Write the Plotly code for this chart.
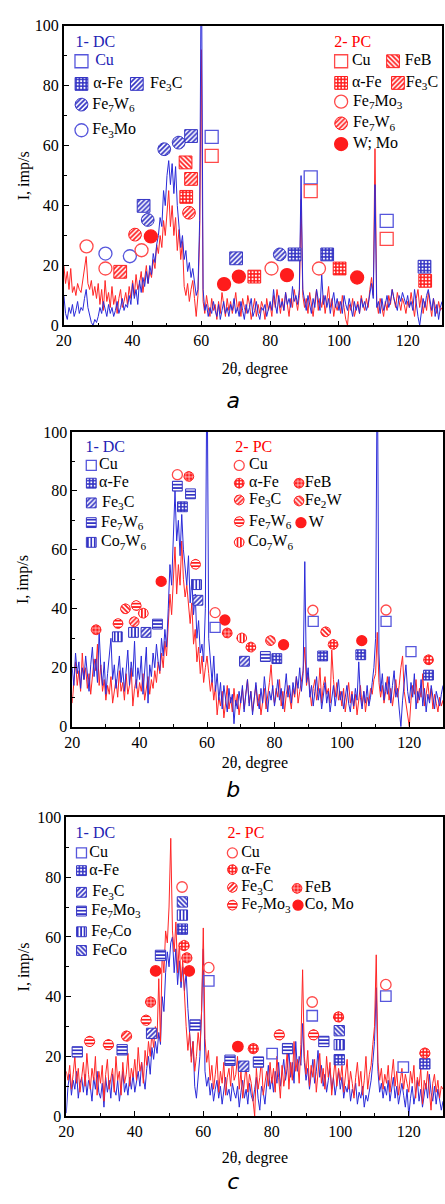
import math
import plotly.graph_objects as go

W, H = 445, 1204
X_START, X_STEP = 20.0, 0.5   # diffractogram sampling (2theta, degree)

# ---------------- diffractograms (I, imp/s), 20.0 ... 130.0 step 0.5 ----------------
A_DC = [
    10, 4, 2, 6, 4, 7, 3, 5, 8, 4, 6, 5, 9, 12, 6, 3, 1, 0, 2, 1,
    3, 6, 4, 8, 5, 3, 7, 4, 6, 3, 5, 8, 4, 6, 9, 5, 7, 6, 10, 7,
    14, 9, 12, 7, 15, 11, 16, 13, 18, 14, 20, 17, 24, 21, 27, 30, 36, 33, 45, 40,
    50, 55, 47, 54, 44, 53, 40, 32, 26, 30, 22, 25, 18, 21, 16, 19, 14, 10, 12, 35,
    130, 12, 5, 7, 3, 6, 4, 8, 5, 3, 7, 2, 5, 8, 4, 6, 3, 7, 5, 9,
    4, 6, 3, 8, 5, 2, 7, 4, 6, 9, 3, 5, 8, 4, 2, 6, 5, 7, 3, 6,
    8, 5, 12, 7, 4, 10, 6, 8, 5, 11, 7, 9, 6, 13, 8, 10, 7, 12, 50, 12,
    8, 5, 10, 7, 4, 9, 6, 12, 8, 5, 17, 7, 10, 6, 9, 4, 8, 11, 6, 9,
    5, 8, 4, 10, 7, 5, 9, 6, 3, 8, 5, 7, 4, 9, 6, 8, 5, 7, 11, 14,
    9, 47, 6, 8, 4, 9, 5, 7, 10, 6, 8, 12, 9, 7, 5, 10, 8, 11, 9, 7,
    10, 6, 8, 5, 12, 7, 3, 0, 5, 9, 6, 10, 12, 8, 5, 9, 3, 7, 2, 6,
    8]
A_PC = [
    20, 14, 18, 12, 19, 11, 13, 10, 14, 12, 11, 15, 18, 23, 14, 12, 15, 10, 13, 9,
    14, 7, 12, 5, 15, 8, 11, 6, 13, 7, 10, 4, 9, 12, 6, 8, 11, 7, 13, 9,
    15, 10, 17, 12, 14, 18, 11, 16, 20, 14, 18, 16, 22, 19, 27, 24, 30, 26, 35, 30,
    38, 45, 33, 40, 30, 36, 25, 32, 22, 28, 13, 10, 14, 8, 12, 15, 9, 3, 10, 30,
    92, 8, 4, 10, 6, 3, 9, 5, 7, 2, 8, 4, 11, 6, 3, 9, 5, 8, 4, 7,
    11, 5, 8, 3, 9, 6, 4, 10, 7, 2, 5, 9, 3, 7, 4, 8, 6, 2, 9, 5,
    7, 3, 10, 6, 12, 8, 4, 9, 5, 11, 7, 3, 9, 6, 12, 8, 5, 10, 42, 10,
    6, 9, 4, 11, 7, 3, 8, 12, 5, 9, 6, 10, 4, 8, 13, 6, 9, 3, 7, 5,
    8, 4, 10, 6, 2, 0, 7, 5, 9, 3, 6, 8, 4, 10, 7, 5, 9, 6, 12, 16,
    10, 59, 8, 4, 9, 6, 3, 8, 5, 10, 7, 12, 9, 6, 11, 8, 5, 9, 7, 4,
    8, 6, 11, 7, 3, 9, 12, 6, 10, 4, 8, 5, 11, 7, 3, 9, 6, 4, 8, 5,
    6]
B_DC = [
    20, 14, 25, 18, 22, 13, 20, 16, 24, 19, 12, 21, 27, 17, 23, 15, 32, 20, 14, 22,
    11, 18, 25, 30, 16, 21, 13, 19, 24, 15, 20, 12, 18, 26, 14, 22, 17, 29, 13, 20,
    16, 24, 11, 19, 27, 8, 21, 17, 25, 20, 28, 22, 19, 30, 24, 33, 27, 40, 55, 48,
    62, 80, 63, 70, 58, 72, 60, 55, 48, 58, 42, 50, 38, 45, 30, 36, 25, 28, 22, 40,
    130, 30, 22, 15, 24, 12, 18, 9, 15, 6, 14, 10, 5, 13, 8, 11, 1, 9, 6, 12,
    8, 14, 5, 11, 16, 7, 12, 4, 10, 15, 9, 6, 13, 8, 17, 10, 5, 12, 9, 14,
    7, 11, 16, 9, 13, 6, 12, 18, 10, 14, 8, 15, 11, 17, 13, 20, 12, 18, 56, 15,
    20, 10, 14, 7, 12, 17, 9, 13, 6, 11, 15, 8, 12, 5, 10, 14, 7, 11, 16, 9,
    12, 6, 10, 14, 8, 5, 11, 7, 13, 9, 22, 10, 6, 12, 8, 14, 7, 10, 15, 20,
    30, 130, 25, 12, 18, 9, 15, 11, 17, 8, 14, 19, 10, 13, 6, 0, 9, 14, 21, 12,
    8, 15, 10, 18, 6, 12, 9, 16, 7, 13, 5, 11, 8, 14, 10, 6, 12, 9, 7, 11,
    14]
B_PC = [
    8, 15, 22, 14, 19, 12, 25, 16, 20, 13, 18, 11, 17, 23, 19, 28, 14, 21, 12, 16,
    9, 14, 11, 17, 8, 13, 16, 10, 19, 12, 15, 9, 18, 11, 14, 20, 7, 13, 16, 10,
    15, 12, 18, 9, 14, 17, 11, 16, 13, 19, 15, 22, 18, 25, 20, 29, 24, 36, 45, 38,
    50, 61, 45, 55, 48, 63, 50, 44, 48, 40, 35, 42, 28, 33, 22, 27, 18, 24, 15, 20,
    24, 18, 12, 16, 9, 14, 4, 10, 7, 12, 3, 8, 14, 6, 10, 5, 13, 7, 11, 4,
    9, 13, 6, 11, 16, 8, 12, 5, 10, 14, 7, 11, 4, 9, 13, 6, 10, 15, 21, 12,
    8, 13, 10, 16, 7, 12, 5, 11, 14, 9, 6, 13, 10, 17, 8, 12, 15, 19, 27, 14,
    18, 11, 7, 13, 16, 9, 12, 20, 8, 14, 17, 11, 13, 8, 26, 16, 10, 15, 9, 12,
    7, 13, 5, 10, 15, 8, 12, 6, 11, 4, 9, 14, 7, 12, 5, 10, 8, 13, 11, 16,
    18, 32, 15, 10, 14, 8, 12, 17, 9, 13, 7, 11, 16, 10, 14, 20, 24, 12, 8, 5,
    0, 9, 14, 11, 16, 8, 13, 10, 18, 7, 12, 15, 9, 13, 6, 11, 8, 5, 10, 7,
    9]
C_DC = [
    1, 10, 14, 7, 12, 9, 15, 6, 11, 13, 8, 14, 7, 12, 10, 5, 13, 9, 15, 8,
    6, 11, 3, 13, 8, 12, 6, 14, 9, 7, 12, 5, 10, 15, 8, 11, 7, 13, 9, 14,
    8, 12, 15, 10, 18, 13, 9, 16, 20, 14, 23, 19, 25, 21, 28, 24, 40, 35, 48, 55,
    50, 58, 60, 48, 56, 44, 52, 43, 50, 42, 48, 36, 28, 20, 25, 10, 6, 14, 20, 35,
    56, 15, 10, 13, 7, 11, 5, 9, 12, 6, 10, 4, 8, 13, 7, 9, 5, 11, 8, 6,
    10, 3, 8, 12, 6, 9, 4, 11, 7, 5, 9, 13, 6, 2, 10, 8, 4, 12, 17, 9,
    13, 8, 15, 11, 18, 10, 14, 19, 12, 16, 22, 13, 18, 11, 25, 15, 20, 17, 31, 18,
    12, 16, 9, 14, 19, 11, 15, 22, 13, 17, 10, 14, 8, 12, 16, 9, 13, 7, 11, 15,
    9, 13, 6, 10, 8, 12, 5, 9, 7, 11, 4, 8, 6, 10, 3, 7, 5, 9, 12, 18,
    25, 43, 15, 8, 11, 6, 10, 7, 12, 5, 9, 13, 6, 10, 4, 8, 11, 7, 3, 9,
    0, 6, 10, 4, 8, 12, 5, 9, 3, 7, 11, 6, 14, 8, 5, 10, 4, 9, 6, 2,
    5]
C_PC = [
    15, 12, 17, 9, 14, 20, 11, 16, 8, 13, 18, 10, 21, 14, 9, 16, 12, 20, 7, 15,
    11, 17, 5, 14, 19, 9, 13, 16, 8, 20, 12, 15, 7, 18, 11, 14, 21, 10, 16, 13,
    19, 12, 23, 15, 18, 11, 22, 17, 25, 20, 28, 23, 30, 26, 46, 25, 55, 48, 62, 58,
    70, 93, 62, 55, 65, 48, 58, 45, 52, 40, 30, 22, 28, 18, 25, 15, 20, 28, 22, 35,
    63, 26, 18, 22, 12, 17, 9, 14, 20, 8, 15, 11, 18, 7, 13, 16, 10, 19, 12, 14,
    20, 9, 15, 6, 12, 17, 8, 14, 11, 5, 0, 16, 9, 13, 19, 7, 12, 15, 10, 18,
    11, 16, 8, 20, 13, 6, 17, 10, 14, 22, 9, 18, 12, 25, 15, 19, 11, 24, 49, 20,
    14, 22, 10, 17, 13, 19, 8, 15, 21, 11, 16, 9, 20, 13, 18, 7, 14, 19, 10, 16,
    12, 17, 8, 14, 19, 9, 15, 11, 6, 13, 18, 10, 15, 7, 12, 20, 9, 14, 17, 24,
    30, 54, 18, 12, 16, 9, 14, 11, 17, 8, 13, 19, 10, 15, 7, 12, 16, 9, 14, 11,
    8, 15, 11, 17, 6, 13, 10, 16, 4, 12, 9, 15, 7, 2, 11, 14, 8, 12, 6, 10,
    9]

# ---------------- phase identification marks (2theta, I) ----------------
# panel a
A_DC_CU = [(63.0, 62.9), (91.8, 49.4), (113.9, 34.9)]
A_DC_AFE = [(87.1, 23.7), (96.6, 23.7), (124.9, 19.6)]
A_DC_FE3C = [(43.2, 39.9), (57.0, 63.2), (70.1, 22.4)]
A_DC_FE7W6 = [(44.4, 35.2), (49.2, 58.8), (53.4, 61.0), (82.8, 23.7)]
A_DC_FE3MO = [(32.1, 24.0), (39.2, 23.1)]
A_PC_CU = [(63.0, 56.6), (91.8, 44.8), (113.9, 28.9)]
A_PC_FEB = [(55.4, 54.4)]
A_PC_AFE = [(55.6, 42.9), (75.4, 16.3), (100.2, 19.0), (125.1, 14.9)]
A_PC_FE3C = [(36.4, 17.9), (57.0, 48.9)]
A_PC_FE7MO3 = [(26.6, 26.4), (32.1, 19.0), (42.6, 25.1), (80.4, 19.0), (94.2, 19.0)]
A_PC_FE7W6 = [(40.7, 30.3), (56.4, 37.6)]
A_PC_WMO = [(45.3, 29.7), (66.6, 13.8), (70.9, 16.3), (84.9, 16.8), (105.3, 16.0)]
# panel b
B_DC_CU = [(62.4, 33.7), (91.5, 35.7), (113.1, 35.7), (120.5, 25.5)]
B_DC_AFE = [(52.7, 74.6), (80.7, 23.1), (94.3, 24.0), (105.6, 24.4), (125.7, 17.5)]
B_DC_FE3C = [(41.9, 32.0), (57.3, 42.9), (71.1, 22.2)]
B_DC_FE7W6 = [(45.3, 34.8), (51.2, 81.6), (55.1, 79.0), (77.3, 23.8)]
B_DC_CO7W6 = [(33.4, 30.5), (38.2, 32.0), (56.9, 48.2)]
B_PC_CU = [(51.2, 85.5), (62.4, 38.7), (91.4, 39.5), (113.1, 39.6)]
B_PC_AFE = [(73.0, 27.0), (97.4, 27.9), (125.7, 22.7)]
B_PC_FEB = [(27.1, 32.9), (54.6, 84.9), (66.0, 31.8)]
B_PC_FE3C = [(38.4, 35.6)]
B_PC_FE2W = [(35.8, 40.0), (78.8, 29.2), (95.2, 32.2)]
B_PC_FE7W6 = [(33.6, 35.0), (39.0, 41.1), (56.6, 55.1)]
B_PC_W = [(46.4, 49.3), (65.3, 36.2), (82.7, 27.8), (105.9, 29.2)]
B_PC_CO7W6 = [(41.1, 38.5), (70.3, 30.1)]
# panel c
C_DC_CU = [(61.6, 45.3), (80.1, 20.9), (91.8, 33.6), (113.3, 40.2), (118.4, 16.4)]
C_DC_AFE = [(53.9, 62.6), (99.7, 18.9), (124.7, 17.5)]
C_DC_FE3C = [(44.9, 27.7), (71.8, 16.7)]
C_DC_FE7MO3 = [(23.2, 21.5), (36.3, 22.2), (47.5, 53.8), (57.6, 30.5), (67.8, 18.7),
               (76.1, 18.1), (84.6, 22.6), (95.2, 25.0)]
C_DC_FE7CO = [(53.9, 67.3), (99.7, 23.9)]
C_DC_FECO = [(53.9, 71.7), (99.7, 28.6)]
C_PC_CU = [(53.8, 76.7), (61.6, 49.7), (91.8, 38.2), (113.3, 44.0)]
C_PC_AFE = [(54.4, 57.1), (74.6, 22.6), (99.5, 33.2), (124.7, 21.1)]
C_PC_FE3C = [(37.6, 26.8)]
C_PC_FEB = [(44.6, 38.2), (55.2, 53.0)]
C_PC_FE7MO3 = [(26.8, 25.0), (32.3, 23.9), (43.3, 32.1), (82.2, 27.2), (92.2, 27.2)]
C_PC_COMO = [(46.1, 48.6), (55.9, 48.6), (70.1, 23.3)]

X_TICKS = [20, 40, 60, 80, 100, 120]
Y_TICKS = [0, 20, 40, 60, 80, 100]

# ---------------- styling ----------------
BLUE_LINE = '#2a2ad8'
RED_LINE = '#ff2626'
BLUE = '#3434c4'
BLUE_OPEN = '#5656dc'
RED = '#ff1c1c'
RED_OPEN = '#ff4a4a'
BLUE_TXT = '#2222b4'
RED_TXT = '#ff0000'
SERIF = 'Liberation Serif'

# panel frames in pixels: left, right, top(100), bottom(0)
GEOM = {
    'a': (57, 443, 18, 322),
    'b': (65.5, 444, 430, 729),
    'c': (59.5, 444, 821, 1124),
}
AX = {'a': ('x', 'y'), 'b': ('x2', 'y2'), 'c': ('x3', 'y3')}


def xs_of(vals):
    return [X_START + X_STEP * i for i in range(len(vals))]


def pattern(kind, color):
    if kind == 'checker':
        return dict(shape='.', fgcolor='white', bgcolor=color, size=3.4, solidity=0.3, fillmode='replace')
    if kind == 'grid':
        return dict(shape='+', fgcolor='white', bgcolor=color, size=3.6, solidity=0.3, fillmode='replace')
    shp = {'diag': '/', 'back': '\\', 'hline': '-', 'vline': '|'}[kind]
    return dict(shape=shp, fgcolor=color, bgcolor='white', size=3.4, solidity=0.5, fillmode='replace')


def outline(cx, cy, shape, half, kx, ky):
    if shape == 'sq':
        dx, dy = half / kx, half / ky
        return ([cx - dx, cx + dx, cx + dx, cx - dx, cx - dx],
                [cy - dy, cy - dy, cy + dy, cy + dy, cy - dy])
    n = 30
    return ([cx + half / kx * math.cos(2 * math.pi * i / n) for i in range(n + 1)],
            [cy + half / ky * math.sin(2 * math.pi * i / n) for i in range(n + 1)])


fig = go.Figure()


def add_marks(pts, kind, shape, color, size, xa, ya, kx, ky):
    if not pts:
        return
    if kind in ('open', 'solid'):
        sym = {'sq': 'square', 'ci': 'circle'}[shape] + ('-open' if kind == 'open' else '')
        fig.add_trace(go.Scatter(
            x=[p[0] for p in pts], y=[p[1] for p in pts], xaxis=xa, yaxis=ya, mode='markers',
            marker=dict(symbol=sym, size=size, color=color, line=dict(color=color, width=1.3)),
            hoverinfo='skip', showlegend=False, cliponaxis=False))
        return
    X, Y = [], []
    for (x, y) in pts:
        ox, oy = outline(x, y, shape, size / 2.0, kx, ky)
        X += ox + [None]
        Y += oy + [None]
    fig.add_trace(go.Scatter(
        x=X, y=Y, xaxis=xa, yaxis=ya, mode='lines', fill='toself',
        fillpattern=pattern(kind, color), line=dict(color=color, width=1),
        hoverinfo='skip', showlegend=False))


# ---------------- diffractograms ----------------
SPECTRA = {'a': (A_DC, A_PC, False), 'b': (B_DC, B_PC, False), 'c': (C_DC, C_PC, True)}
for key, (dc, pc, red_top) in SPECTRA.items():
    xa, ya = AX[key]
    blue_tr = go.Scatter(x=xs_of(dc), y=dc, xaxis=xa, yaxis=ya, mode='lines',
                         line=dict(color=BLUE_LINE, width=1), hoverinfo='skip', showlegend=False)
    red_tr = go.Scatter(x=xs_of(pc), y=pc, xaxis=xa, yaxis=ya, mode='lines',
                        line=dict(color=RED_LINE, width=1), hoverinfo='skip', showlegend=False)
    if red_top:
        fig.add_trace(blue_tr)
        fig.add_trace(red_tr)
    else:
        fig.add_trace(red_tr)
        fig.add_trace(blue_tr)

# ---------------- data marks ----------------
MARKS = {
    'a': [
        (A_DC_CU, 'open', 'sq', BLUE_OPEN), (A_DC_AFE, 'checker', 'sq', BLUE),
        (A_DC_FE3C, 'diag', 'sq', BLUE), (A_DC_FE7W6, 'diag', 'ci', BLUE),
        (A_DC_FE3MO, 'open', 'ci', BLUE_OPEN),
        (A_PC_CU, 'open', 'sq', RED_OPEN), (A_PC_FEB, 'back', 'sq', RED),
        (A_PC_AFE, 'checker', 'sq', RED), (A_PC_FE3C, 'diag', 'sq', RED),
        (A_PC_FE7MO3, 'open', 'ci', RED_OPEN), (A_PC_FE7W6, 'diag', 'ci', RED),
        (A_PC_WMO, 'solid', 'ci', RED),
    ],
    'b': [
        (B_DC_CU, 'open', 'sq', BLUE_OPEN), (B_DC_AFE, 'checker', 'sq', BLUE),
        (B_DC_FE3C, 'diag', 'sq', BLUE), (B_DC_FE7W6, 'hline', 'sq', BLUE),
        (B_DC_CO7W6, 'vline', 'sq', BLUE),
        (B_PC_CU, 'open', 'ci', RED_OPEN), (B_PC_AFE, 'checker', 'ci', RED),
        (B_PC_FEB, 'grid', 'ci', RED), (B_PC_FE3C, 'diag', 'ci', RED),
        (B_PC_FE2W, 'back', 'ci', RED), (B_PC_FE7W6, 'hline', 'ci', RED),
        (B_PC_W, 'solid', 'ci', RED), (B_PC_CO7W6, 'vline', 'ci', RED),
    ],
    'c': [
        (C_DC_CU, 'open', 'sq', BLUE_OPEN), (C_DC_AFE, 'checker', 'sq', BLUE),
        (C_DC_FE3C, 'diag', 'sq', BLUE), (C_DC_FE7MO3, 'hline', 'sq', BLUE),
        (C_DC_FE7CO, 'vline', 'sq', BLUE), (C_DC_FECO, 'back', 'sq', BLUE),
        (C_PC_CU, 'open', 'ci', RED_OPEN), (C_PC_AFE, 'checker', 'ci', RED),
        (C_PC_FE3C, 'diag', 'ci', RED), (C_PC_FEB, 'grid', 'ci', RED),
        (C_PC_FE7MO3, 'hline', 'ci', RED), (C_PC_COMO, 'solid', 'ci', RED),
    ],
}
MSIZE = {'a': 13, 'b': 10, 'c': 10.5}
for key, items in MARKS.items():
    l, r, t, b = GEOM[key]
    kx, ky = (r - l) / 110.0, (b - t) / 100.0
    xa, ya = AX[key]
    for pts, kind, shape, color in items:
        add_marks(pts, kind, shape, color, MSIZE[key], xa, ya, kx, ky)

# ---------------- legends (symbols and texts on a pixel overlay axis x4/y4) ----------------
LEGEND = {
    'a': dict(size=13, dc_head=(69, 35), pc_head=(333, 35), items=[
        (75, 54, 'open', 'sq', BLUE_OPEN, 'Cu', 89, BLUE_TXT),
        (75, 77, 'checker', 'sq', BLUE, 'α-Fe', 87, 'black'),
        (131.5, 77, 'diag', 'sq', BLUE, 'Fe<sub>3</sub>C', 145, 'black'),
        (75, 98, 'diag', 'ci', BLUE, 'Fe<sub>7</sub>W<sub>6</sub>', 86, 'black'),
        (75, 124, 'open', 'ci', BLUE_OPEN, 'Fe<sub>3</sub>Mo', 86, 'black'),
        (340, 54, 'open', 'sq', RED_OPEN, 'Cu', 351, 'black'),
        (393, 54, 'back', 'sq', RED, 'FeB', 405, 'black'),
        (340, 76, 'checker', 'sq', RED, 'α-Fe', 351, 'black'),
        (398, 76, 'diag', 'sq', RED, 'Fe<sub>3</sub>C', 406, 'black'),
        (340, 95, 'open', 'ci', RED_OPEN, 'Fe<sub>7</sub>Mo<sub>3</sub>', 352, 'black'),
        (340, 117, 'diag', 'ci', RED, 'Fe<sub>7</sub>W<sub>6</sub>', 352, 'black'),
        (340, 138, 'solid', 'ci', RED, 'W; Mo', 352, 'black'),
    ]),
    'b': dict(size=10, dc_head=(79, 446), pc_head=(232, 446), items=[
        (85, 464, 'open', 'sq', BLUE_OPEN, 'Cu', 93, 'black'),
        (85, 482, 'checker', 'sq', BLUE, 'α-Fe', 93, 'black'),
        (85, 502, 'diag', 'sq', BLUE, 'Fe<sub>3</sub>C', 96, 'black'),
        (85, 522, 'hline', 'sq', BLUE, 'Fe<sub>7</sub>W<sub>6</sub>', 95, 'black'),
        (85, 542, 'vline', 'sq', BLUE, 'Co<sub>7</sub>W<sub>6</sub>', 95, 'black'),
        (236, 464, 'open', 'ci', RED_OPEN, 'Cu', 246, 'black'),
        (236, 482, 'checker', 'ci', RED, 'α-Fe', 246, 'black'),
        (297, 482, 'grid', 'ci', RED, 'FeB', 303, 'black'),
        (236, 499, 'diag', 'ci', RED, 'Fe<sub>3</sub>C', 246, 'black'),
        (297, 500, 'back', 'ci', RED, 'Fe<sub>2</sub>W', 303, 'black'),
        (236, 521, 'hline', 'ci', RED, 'Fe<sub>7</sub>W<sub>6</sub>', 246, 'black'),
        (299, 522, 'solid', 'ci', RED, 'W', 307, 'black'),
        (236, 542, 'vline', 'ci', RED, 'Co<sub>7</sub>W<sub>6</sub>', 245, 'black'),
    ]),
    'c': dict(size=10, dc_head=(69, 838), pc_head=(224, 838), items=[
        (75, 857, 'open', 'sq', BLUE_OPEN, 'Cu', 83, 'black'),
        (75, 875, 'checker', 'sq', BLUE, 'α-Fe', 83, 'black'),
        (75, 897, 'diag', 'sq', BLUE, 'Fe<sub>3</sub>C', 86, 'black'),
        (75, 916, 'hline', 'sq', BLUE, 'Fe<sub>7</sub>Mo<sub>3</sub>', 85, 'black'),
        (75, 937, 'vline', 'sq', BLUE, 'Fe<sub>7</sub>Co', 85, 'black'),
        (75, 956, 'back', 'sq', BLUE, 'FeCo', 86, 'black'),
        (229, 857, 'open', 'ci', RED_OPEN, 'Cu', 238, 'black'),
        (229, 874, 'checker', 'ci', RED, 'α-Fe', 238, 'black'),
        (229, 892, 'diag', 'ci', RED, 'Fe<sub>3</sub>C', 238, 'black'),
        (295, 893, 'grid', 'ci', RED, 'FeB', 303, 'black'),
        (229, 910, 'hline', 'ci', RED, 'Fe<sub>7</sub>Mo<sub>3</sub>', 238, 'black'),
        (296, 910, 'solid', 'ci', RED, 'Co, Mo', 303, 'black'),
    ]),
}

TXT_X, TXT_Y, TXT_S, TXT_C, TXT_F, TXT_Z, TXT_P = [], [], [], [], [], [], []


def txt(x, y, s, color='black', size=16, family=SERIF, pos='middle right'):
    # text laid out on the pixel overlay axis
    TXT_X.append(x)
    TXT_Y.append(y)
    TXT_S.append(s)
    TXT_C.append(color)
    TXT_F.append(family)
    TXT_Z.append(size)
    TXT_P.append(pos)


for key, lg in LEGEND.items():
    txt(*lg['dc_head'], '1- DC', BLUE_TXT, 16)
    txt(*lg['pc_head'], '2- PC', RED_TXT, 16)
    for (x, y, kind, shape, color, label, tx, tcol) in lg['items']:
        add_marks([(x, y)], kind, shape, color, lg['size'], 'x4', 'y4', 1.0, 1.0)
        txt(tx, y, label, tcol, 16)

annotations = []
for key, letter, xt_y, let_y in (('a', 'a', 367, 400), ('b', 'b', 767, 795), ('c', 'c', 1167, 1192)):
    l, r, t, b = GEOM[key]
    txt(252, xt_y, '2θ, degree', 'black', 16, pos='middle center')
    txt(230, let_y, '<i>' + letter + '</i>', 'black', 22, family='DejaVu Sans', pos='middle center')
    annotations.append(dict(x=16 / W, y=1 - (t + b) / 2.0 / H, xref='paper', yref='paper',
                            text='I, imp/s', showarrow=False, xanchor='center', yanchor='middle',
                            textangle=-90, font=dict(family=SERIF, size=16, color='black')))

fig.add_trace(go.Scatter(
    x=TXT_X, y=TXT_Y, text=TXT_S, mode='text', xaxis='x4', yaxis='y4',
    textposition=TXT_P, textfont=dict(family=TXT_F, size=TXT_Z, color=TXT_C),
    hoverinfo='skip', showlegend=False, cliponaxis=False))

# ---------------- axes ----------------
layout = dict(width=W, height=H, margin=dict(l=0, r=0, t=0, b=0, pad=0), autosize=False,
              paper_bgcolor='white', plot_bgcolor='rgba(0,0,0,0)', showlegend=False,
              annotations=annotations)
for key, (xa, ya) in AX.items():
    l, r, t, b = GEOM[key]
    xname = 'xaxis' + xa[1:]
    yname = 'yaxis' + ya[1:]
    common = dict(showline=True, linecolor='black', linewidth=1.6, mirror=True,
                  ticks='inside', ticklen=5, tickwidth=1.2, tickcolor='black',
                  showgrid=False, zeroline=False,
                  tickfont=dict(family=SERIF, size=16, color='black'),
                  minor=dict(ticks='inside', ticklen=3, tickwidth=1, tickcolor='black', showgrid=False))
    layout[xname] = dict(common, domain=[l / W, r / W], range=[20, 130], anchor=ya,
                         tickmode='array', tickvals=X_TICKS, minor=dict(common['minor'], dtick=10, tick0=0))
    layout[yname] = dict(common, domain=[1 - b / H, 1 - t / H], range=[0, 100], anchor=xa,
                         tickmode='array', tickvals=Y_TICKS, minor=dict(common['minor'], dtick=10, tick0=0))
layout['xaxis4'] = dict(domain=[0, 1], range=[0, W], visible=False, anchor='y4', fixedrange=True)
layout['yaxis4'] = dict(domain=[0, 1], range=[H, 0], visible=False, anchor='x4', fixedrange=True)
fig.update_layout(**layout)

fig.write_html('out.html', config={'displayModeBar': False},
               post_script="document.body.style.margin='0';document.body.style.padding='0';"
                           "document.body.style.overflow='hidden';")
